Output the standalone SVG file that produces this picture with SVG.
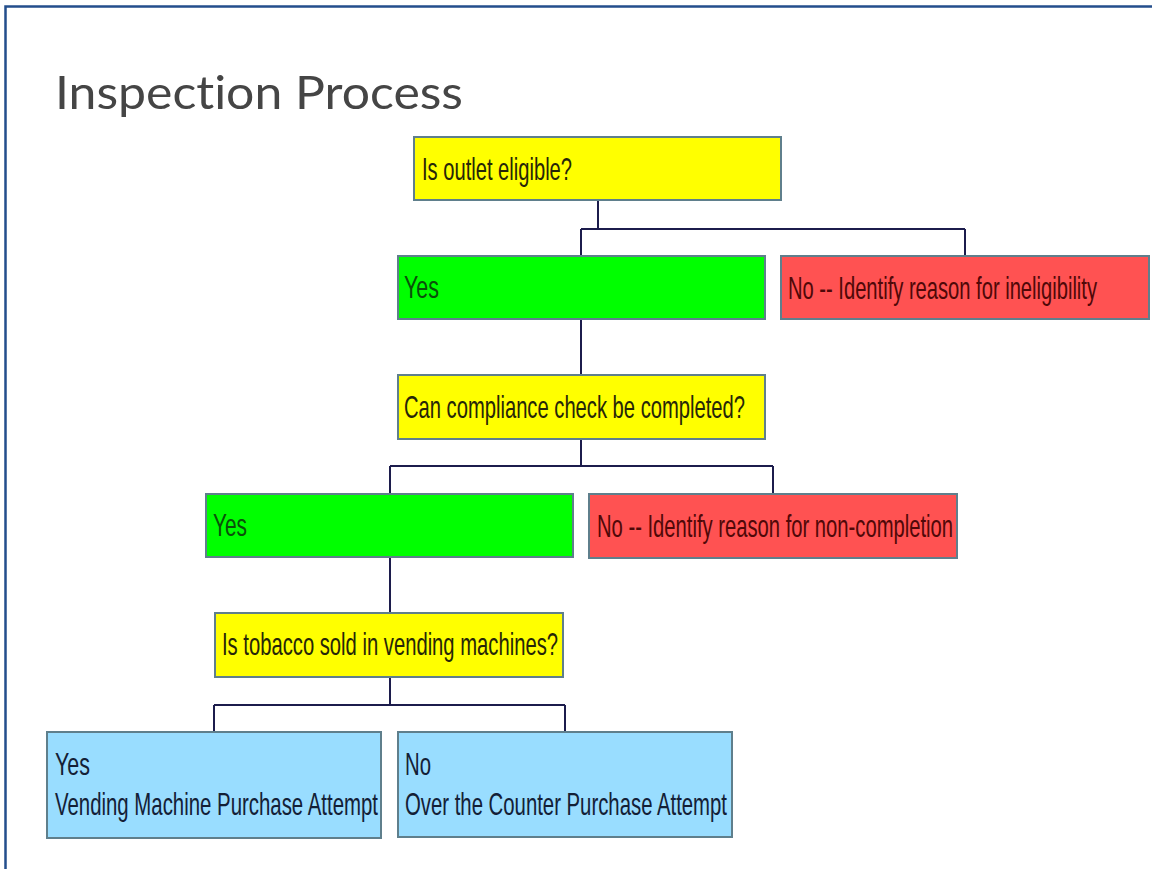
<svg xmlns="http://www.w3.org/2000/svg" width="1152" height="869" viewBox="0 0 1152 869">
<style>
.box{stroke:#5f7f8c;stroke-width:2}
.q{fill:#ffff00}
.y{fill:#00ff00}
.n{fill:#ff5252}
.b{fill:#99ddff}
.t{font-family:"Liberation Sans",Arial,sans-serif;font-size:31px}
.tq{fill:#262608}
.ty{fill:#0a500a}
.tn{fill:#500808}
.tb{fill:#132036}
.c{fill:none;stroke:#1c1c4c;stroke-width:2}
</style>
<rect width="1152" height="869" fill="#ffffff"/>
<path d="M5.5 869 V6.5 H1152" fill="none" stroke="#234e8c" stroke-width="2.5"/>
<text x="55" y="109" font-family="Lato,'Open Sans',sans-serif" font-size="47" fill="#454545" style="font-variant-ligatures:none" textLength="408" lengthAdjust="spacingAndGlyphs">Inspection Process</text>
<g id="connectors">
<path class="c" d="M598 200 V229 M581 229 H965 M581 229 V256 M965 229 V256"/>
<path class="c" d="M581 319 V375"/>
<path class="c" d="M581 439 V466 M390 466 H773 M390 466 V494 M773 466 V494"/>
<path class="c" d="M390 557 V613"/>
<path class="c" d="M390 677 V705 M214 705 H565 M214 705 V732 M565 705 V732"/>
</g>
<g id="q1">
<rect class="box q" x="414" y="137" width="367" height="63"/>
<text class="t tq" transform="translate(422 180) scale(0.65 1)" textLength="230.8" lengthAdjust="spacingAndGlyphs">Is outlet eligible?</text>
</g>
<g id="yes1">
<rect class="box y" x="398" y="256" width="367" height="63"/>
<text class="t ty" transform="translate(404 298) scale(0.65 1)" textLength="53.8" lengthAdjust="spacingAndGlyphs">Yes</text>
</g>
<g id="no1">
<rect class="box n" x="781" y="256" width="368" height="63"/>
<text class="t tn" transform="translate(788 299) scale(0.65 1)" textLength="475.4" lengthAdjust="spacingAndGlyphs">No -- Identify reason for ineligibility</text>
</g>
<g id="q2">
<rect class="box q" x="398" y="375" width="367" height="64"/>
<text class="t tq" transform="translate(404 418) scale(0.65 1)" textLength="524.6" lengthAdjust="spacingAndGlyphs">Can compliance check be completed?</text>
</g>
<g id="yes2">
<rect class="box y" x="206" y="494" width="367" height="63"/>
<text class="t ty" transform="translate(213 536) scale(0.65 1)" textLength="52.3" lengthAdjust="spacingAndGlyphs">Yes</text>
</g>
<g id="no2">
<rect class="box n" x="589" y="494" width="368" height="64"/>
<text class="t tn" transform="translate(597 537) scale(0.65 1)" textLength="547.7" lengthAdjust="spacingAndGlyphs">No -- Identify reason for non-completion</text>
</g>
<g id="q3">
<rect class="box q" x="215" y="613" width="348" height="64"/>
<text class="t tq" transform="translate(222 655) scale(0.65 1)" textLength="516.9" lengthAdjust="spacingAndGlyphs">Is tobacco sold in vending machines?</text>
</g>
<g id="yes3">
<rect class="box b" x="47" y="732" width="334" height="106"/>
<text class="t tb" transform="translate(55 775) scale(0.65 1)" textLength="53.8" lengthAdjust="spacingAndGlyphs">Yes</text>
<text class="t tb" transform="translate(55 815) scale(0.65 1)" textLength="496.9" lengthAdjust="spacingAndGlyphs">Vending Machine Purchase Attempt</text>
</g>
<g id="no3">
<rect class="box b" x="398" y="732" width="334" height="105"/>
<text class="t tb" transform="translate(405 775) scale(0.65 1)" textLength="40" lengthAdjust="spacingAndGlyphs">No</text>
<text class="t tb" transform="translate(405 815) scale(0.65 1)" textLength="495.4" lengthAdjust="spacingAndGlyphs">Over the Counter Purchase Attempt</text>
</g>
</svg>
